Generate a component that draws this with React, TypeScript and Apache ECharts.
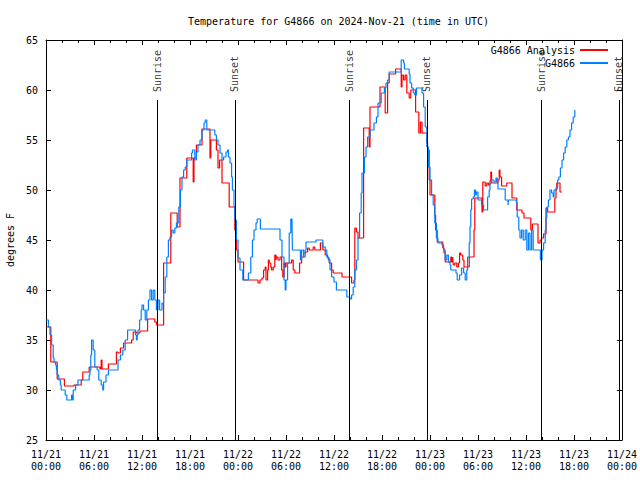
import React, { useEffect, useRef } from "react";
import * as echarts from "echarts";

const TITLE = "Temperature for G4866 on 2024-Nov-21 (time in UTC)";
const Y_NAME = "degrees F";
const ANA_NAME = "G4866 Analysis";
const OBS_NAME = "G4866";

// hours since 2024-11-21 00:00 UTC
const obsHours = [
  0.0, 0.3, 0.5, 0.7, 0.9, 1.0, 1.2, 1.3, 1.4, 1.6, 1.8, 1.9, 2.4, 2.6, 3.2, 3.3, 3.4, 3.7, 4.0, 5.4,
  5.5, 5.6, 5.7, 5.9, 6.1, 6.4, 6.6, 6.9, 7.1, 7.2, 7.5, 7.8, 9.0, 9.3, 9.6, 9.9, 10.2, 11.2, 11.3, 11.4,
  11.5, 11.7, 11.9, 12.0, 12.2, 12.4, 12.6, 12.8, 13.0, 13.2, 13.4, 13.6, 13.8, 14.0, 14.2, 14.5, 14.7, 14.9, 15.1, 15.3,
  15.5, 15.7, 15.9, 16.1, 16.3, 16.6, 16.8, 17.0, 17.2, 17.4, 17.6, 18.2, 18.3, 18.6, 18.8, 19.0, 19.25, 19.5, 19.75, 19.9,
  20.1, 21.1, 21.3, 21.5, 21.75, 22.0, 22.2, 22.5, 22.7, 22.8, 23.0, 23.2, 23.3, 23.5, 23.6, 23.8, 24.0, 24.25, 24.6, 25.3,
  25.6, 25.8, 26.0, 26.25, 26.4, 26.8, 29.25, 29.5, 29.75, 29.9, 30.0, 30.2, 30.4, 30.6, 30.75, 30.8, 31.8, 31.95, 32.2, 32.4,
  32.5, 33.75, 34.6, 34.9, 35.1, 35.3, 35.5, 35.7, 36.0, 36.3, 37.6, 38.0, 38.2, 38.4, 38.6, 38.8, 39.0, 39.2, 39.4, 39.5,
  39.8, 40.0, 40.2, 40.5, 41.0, 41.3, 41.5, 41.9, 42.3, 42.5, 42.7, 42.9, 44.3, 44.4, 44.7, 44.8, 45.4, 45.5, 45.7, 45.9,
  46.1, 46.3, 47.0, 47.2, 47.4, 47.6, 47.8, 48.0, 48.2, 48.4, 48.6, 48.8, 49.0, 49.5, 49.7, 49.9, 50.1, 50.3, 50.5, 50.6,
  51.25, 51.4, 51.7, 51.95, 52.2, 52.4, 52.6, 52.7, 52.9, 53.0, 53.1, 53.2, 53.4, 53.55, 53.7, 53.8, 54.0, 54.45, 54.7, 55.2,
  55.4, 55.5, 55.7, 56.0, 56.25, 56.4, 56.5, 57.4, 57.75, 57.8, 58.8, 58.9, 59.1, 59.25, 59.45, 59.65, 59.9, 60.1, 60.3, 60.5,
  60.7, 60.9, 61.8, 62.0, 62.2, 62.4, 62.5, 62.6, 62.8, 63.0, 63.2, 63.4, 63.5, 63.75, 63.95, 64.1, 64.3, 64.5, 64.7, 64.9,
  65.1, 65.3, 65.5, 65.7, 65.9, 66.1,
];
const obsTemps = [
  37.0, 36.3, 35.5, 34.5, 33.2, 32.8, 32.5, 32.0, 31.5, 31.0, 30.5, 30.0, 29.5, 29.0, 29.5, 29.0, 30.0, 30.5, 31.0, 31.5,
  32.0, 33.5, 35.0, 34.0, 32.3, 32.0, 31.0, 30.5, 30.0, 30.8, 31.5, 32.0, 33.0, 33.5, 34.0, 35.0, 36.0, 35.5, 35.0, 35.5,
  36.0, 37.0, 38.0, 38.5, 38.0, 37.0, 38.0, 39.0, 40.0, 39.0, 40.0, 39.0, 38.0, 39.0, 38.0, 38.7, 39.7, 41.3, 43.3, 45.0,
  45.3, 46.0, 45.7, 46.2, 46.7, 48.3, 50.0, 51.3, 52.0, 52.3, 53.0, 53.7, 54.0, 53.0, 53.8, 54.5, 55.0, 56.0, 56.7, 57.0,
  56.0, 55.5, 55.0, 54.5, 53.7, 53.0, 53.3, 53.8, 54.0, 53.3, 52.7, 51.3, 50.0, 48.3, 47.0, 45.0, 43.2, 42.0, 41.0, 41.7,
  43.3, 45.0, 46.0, 46.7, 47.1, 46.1, 45.0, 43.3, 41.0, 40.0, 41.0, 42.7, 45.7, 47.1, 46.7, 44.0, 43.0, 44.0, 43.3, 44.0,
  44.8, 45.0, 44.3, 44.0, 43.3, 43.0, 42.0, 41.3, 40.8, 40.0, 39.3, 39.1, 39.5, 40.3, 42.0, 43.0, 45.2, 47.7, 49.7, 51.7,
  53.3, 54.3, 55.3, 56.0, 56.7, 57.3, 58.7, 59.7, 60.2, 60.7, 61.0, 61.8, 61.8, 63.0, 62.7, 62.1, 61.6, 60.7, 60.2, 59.7,
  59.5, 60.2, 59.7, 58.3, 56.3, 54.3, 52.3, 51.0, 49.5, 48.5, 46.7, 45.2, 44.7, 44.5, 44.0, 43.0, 43.5, 42.8, 42.5, 42.0,
  41.7, 41.0, 41.5, 42.2, 41.7, 41.0, 42.0, 43.3, 44.7, 46.3, 48.0, 49.1, 49.3, 50.0, 49.5, 49.8, 49.0, 48.5, 48.0, 49.3,
  50.0, 50.7, 51.0, 50.8, 51.2, 50.8, 50.1, 49.0, 48.5, 49.0, 48.7, 47.3, 46.0, 45.2, 46.0, 45.0, 46.0, 44.0, 45.7, 44.0,
  46.0, 44.0, 43.0, 44.0, 44.7, 46.0, 47.2, 48.3, 49.0, 50.0, 49.7, 49.3, 50.0, 50.2, 51.0, 51.3, 52.2, 53.0, 53.7, 54.3,
  55.0, 55.3, 56.0, 56.7, 57.3, 58.0,
];

const anaHours = [
  0.0, 0.6, 1.4, 2.3, 3.5, 4.4, 4.6, 5.4, 6.75, 6.9, 7.0, 7.8, 8.8, 9.0, 9.3, 9.7, 10.7, 10.9, 11.3, 11.75,
  12.7, 13.6, 13.8, 14.7, 15.6, 16.4, 16.75, 17.6, 18.4, 18.5, 18.8, 19.5, 20.5, 20.6, 21.3, 21.5, 21.7, 22.0, 22.9, 23.6,
  23.8, 24.0, 24.7, 26.5, 26.75, 27.0, 27.2, 27.4, 27.5, 27.7, 27.8, 27.9, 28.1, 28.2, 28.4, 28.6, 28.75, 28.8, 29.0, 29.25,
  29.45, 29.6, 29.75, 29.9, 30.0, 30.7, 30.9, 31.1, 31.7, 31.95, 32.2, 32.4, 32.7, 32.9, 33.4, 33.6, 34.3, 34.6, 34.9, 35.2,
  35.4, 35.7, 35.9, 37.0, 38.2, 38.5, 38.6, 38.8, 39.0, 39.7, 40.4, 40.5, 41.75, 42.4, 42.7, 42.9, 43.7, 44.4, 44.5, 44.7,
  44.9, 45.1, 45.4, 45.6, 46.2, 46.6, 46.8, 47.0, 47.6, 47.7, 47.8, 47.9, 48.0, 48.6, 48.7, 48.9, 49.6, 49.75, 49.9, 50.6,
  50.7, 50.85, 50.9, 51.1, 51.35, 51.55, 51.7, 51.85, 52.1, 52.25, 52.9, 53.5, 53.6, 54.5, 54.6, 54.9, 55.1, 55.3, 55.5, 55.6,
  55.7, 56.5, 56.65, 56.75, 56.95, 57.6, 58.25, 58.85, 59.5, 59.75, 60.6, 60.8, 61.5, 61.75, 61.95, 62.2, 62.5, 62.7, 63.6, 63.75,
  63.85, 64.25, 64.5,
];
const anaTemps = [
  36.3, 32.8, 31.1, 30.4, 30.5, 31.0, 31.8, 32.3, 32.1, 33.0, 32.1, 32.6, 33.8, 33.7, 34.2, 34.7, 35.0, 35.8, 35.7, 35.9,
  37.1, 36.8, 36.5, 42.7, 47.7, 46.3, 51.2, 53.2, 50.8, 53.2, 54.5, 56.1, 53.2, 55.0, 54.0, 52.2, 53.0, 50.7, 48.3, 46.0,
  44.0, 42.8, 41.0, 40.7, 41.0, 41.2, 42.0, 42.3, 41.0, 42.0, 43.0, 42.7, 42.3, 42.0, 42.3, 43.5, 43.0, 43.3, 43.0, 43.3,
  42.0, 41.3, 42.7, 42.3, 42.7, 43.0, 42.0, 41.7, 42.7, 43.3, 43.7, 43.8, 44.2, 44.0, 44.3, 44.0, 44.7, 44.0, 43.5, 43.2,
  42.7, 42.0, 41.7, 41.3, 40.7, 41.0, 46.2, 45.8, 45.2, 56.2, 54.3, 58.3, 60.3, 57.7, 60.7, 61.6, 62.1, 60.3, 61.5, 61.0,
  61.5, 59.7, 59.2, 60.0, 57.8, 55.7, 56.8, 55.7, 54.7, 53.0, 54.0, 51.0, 49.5, 47.5, 46.0, 44.8, 44.2, 43.7, 42.8, 43.3,
  42.8, 43.3, 42.5, 42.7, 42.3, 42.7, 43.7, 43.5, 43.0, 42.3, 43.3, 46.0, 49.2, 47.8, 50.8, 50.4, 50.7, 50.5, 50.9, 51.8,
  50.7, 51.0, 52.0, 51.3, 50.4, 50.7, 49.2, 48.0, 47.7, 47.2, 46.0, 46.6, 44.7, 45.0, 45.2, 45.6, 48.2, 47.8, 49.2, 50.0,
  50.7, 49.8, 49.8,
];

const sunHours = [13.9, 23.6, 37.9, 47.6, 61.9, 71.6];
const sunLabels = ["Sunrise", "Sunset", "Sunrise", "Sunset", "Sunrise", "Sunset"];
const SUN_TOP = 59;

const FONT = "'DejaVu Sans Mono', 'Liberation Mono', monospace";

function fmtHour(v: number): string {
  const day = 21 + Math.floor(v / 24);
  const hh = Math.round(v % 24);
  return "11/" + day + "\n" + (hh < 10 ? "0" + hh : "" + hh) + ":00";
}

export default function App() {
  const ref = useRef<HTMLDivElement>(null);
  useEffect(() => {
    if (!ref.current) return;
    const chart = echarts.init(ref.current, null, { renderer: "svg" });
    const obsData = obsHours.map((h, i) => [h, obsTemps[i]]);
    const anaData = anaHours.map((h, i) => [h, anaTemps[i]]);
    const sunData = sunHours.map((h, i) => ({ value: [h, SUN_TOP], name: sunLabels[i] }));
    const axisCommon = {
      axisLine: { show: true, onZero: false, lineStyle: { color: "#000", width: 1 } },
      splitLine: { show: false },
    };
    const majorTick = { show: true, inside: true, length: 5, lineStyle: { color: "#000" } };
    const minorTick = { show: true, splitNumber: 3, length: 3, lineStyle: { color: "#000" } };
    chart.setOption({
      animation: false,
      backgroundColor: "#fff",
      title: {
        text: TITLE,
        left: 183,
        top: 11,
        textStyle: { fontFamily: FONT, fontSize: 10, fontWeight: "normal", color: "#000" },
      },
      legend: {
        orient: "vertical",
        right: 27,
        top: 39,
        align: "right",
        icon: "rect",
        itemWidth: 28,
        itemHeight: 2,
        itemGap: 1,
        data: [ANA_NAME, OBS_NAME],
        textStyle: { fontFamily: FONT, fontSize: 10, color: "#000", lineHeight: 12 },
      },
      grid: { left: 46, right: 18, top: 40, bottom: 40, containLabel: false, outerBoundsMode: "none" },
      xAxis: [
        {
          type: "value",
          min: 0,
          max: 72,
          interval: 6,
          position: "bottom",
          ...axisCommon,
          axisTick: majorTick,
          minorTick: minorTick,
          axisLabel: {
            formatter: fmtHour,
            fontFamily: FONT,
            fontSize: 10,
            color: "#000",
            margin: 8,
            lineHeight: 12,
          },
        },
        {
          type: "value",
          min: 0,
          max: 72,
          interval: 6,
          position: "top",
          ...axisCommon,
          axisTick: majorTick,
          minorTick: minorTick,
          axisLabel: { show: false },
        },
      ],
      yAxis: [
        {
          type: "value",
          min: 25,
          max: 65,
          interval: 5,
          position: "left",
          name: Y_NAME,
          nameLocation: "middle",
          nameRotate: 90,
          nameGap: 31,
          nameTextStyle: { fontFamily: FONT, fontSize: 10, color: "#000" },
          ...axisCommon,
          axisTick: majorTick,
          axisLabel: { fontFamily: FONT, fontSize: 10, color: "#000", margin: 8 },
        },
        {
          type: "value",
          min: 25,
          max: 65,
          interval: 5,
          position: "right",
          ...axisCommon,
          axisTick: majorTick,
          axisLabel: { show: false },
        },
      ],
      series: [
        {
          type: "scatter",
          name: "sun",
          data: sunData,
          symbolSize: 0,
          silent: true,
          label: {
            show: true,
            formatter: (p: any) => p.name,
            position: "top",
            distance: 8,
            rotate: 90,
            align: "left",
            verticalAlign: "middle",
            fontFamily: FONT,
            fontSize: 10,
            color: "#000",
          },
          markLine: {
            silent: true,
            symbol: ["none", "none"],
            label: { show: false },
            lineStyle: { color: "#000", width: 1, type: "solid" },
            data: sunHours.map((h) => [{ coord: [h, SUN_TOP] }, { coord: [h, 25] }]),
          },
          z: 1,
        },
        {
          type: "line",
          name: ANA_NAME,
          data: anaData,
          step: "end",
          symbol: "none",
          showSymbol: false,
          color: "#ff0000",
          lineStyle: { color: "#ff0000", width: 1.2 },
          z: 2,
        },
        {
          type: "line",
          name: OBS_NAME,
          data: obsData,
          step: "end",
          symbol: "none",
          showSymbol: false,
          color: "#0080ff",
          lineStyle: { color: "#0080ff", width: 1.2 },
          z: 3,
        },
      ],
    });
    return () => chart.dispose();
  }, []);
  return <div ref={ref} style={{ width: 640, height: 480, position: "absolute", left: 0, top: 0 }} />;
}
